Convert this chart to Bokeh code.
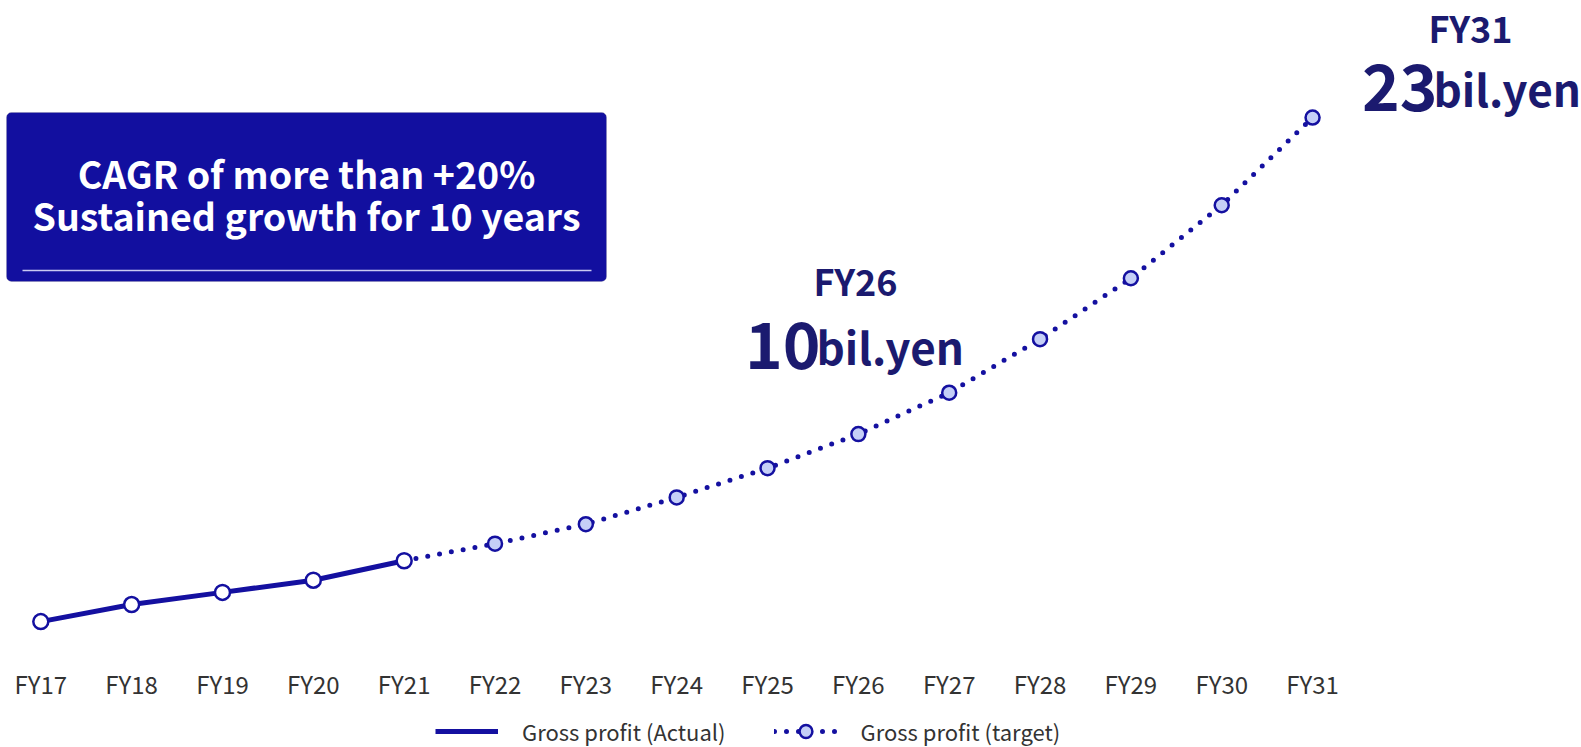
from bokeh.plotting import figure
from bokeh.models import (Range1d, LinearAxis, FixedTicker, Legend, LegendItem,
                          BoxAnnotation, Label)
from bokeh.embed import file_html
from bokeh.resources import INLINE

# ---- data (billion yen, gross profit) ----
years = ["FY17", "FY18", "FY19", "FY20", "FY21", "FY22", "FY23", "FY24",
         "FY25", "FY26", "FY27", "FY28", "FY29", "FY30", "FY31"]
actual_years = years[:5]
actual_values = [2.3, 3.0, 3.5, 4.0, 4.8]
target_years = years[4:]
target_values = [4.8, 5.5, 6.3, 7.4, 8.6, 10.0, 11.7, 13.9, 16.4, 19.4, 23.0]

# ---- canvas geometry ----
W, H = 1581, 747
X_FIRST, X_STEP = 40.3, 90.84          # pixel of first year, pixels per year
Y_TEN, Y_UNIT = 433.6, 24.35           # pixel row of value 10, pixels per unit

x_lo = -X_FIRST / X_STEP
x_hi = (W - X_FIRST) / X_STEP
y_hi = 10 + Y_TEN / Y_UNIT
y_lo = 10 - (H - Y_TEN) / Y_UNIT


def px_x(px):
    return x_lo + px / W * (x_hi - x_lo)


def px_y(py):
    return y_hi - py / H * (y_hi - y_lo)


FONT = "Noto Sans CJK JP"
NAVY = "#1410a0"
TEXT_NAVY = "#1b1a6f"
BOX = "#120f9f"

xi = {y: i for i, y in enumerate(years)}
ax = [xi[y] for y in actual_years]
tx = [xi[y] for y in target_years]

p = figure(width=W, height=H, x_range=Range1d(x_lo, x_hi), y_range=Range1d(y_lo, y_hi),
           output_backend="svg", toolbar_location=None, min_border=0,
           x_axis_type=None, y_axis_type=None)
p.outline_line_color = None
p.background_fill_color = "white"
p.border_fill_color = "white"

# x axis with fiscal-year labels, pinned inside the frame
xaxis = LinearAxis(ticker=FixedTicker(ticks=list(range(len(years)))),
                   major_label_overrides={i: y for i, y in enumerate(years)},
                   fixed_location=px_y(653))
xaxis.axis_line_color = None
xaxis.major_tick_line_color = None
xaxis.minor_tick_line_color = None
xaxis.major_label_text_font = FONT
xaxis.major_label_text_font_size = "24px"
xaxis.major_label_text_color = "#333333"
xaxis.major_label_standoff = 6
p.add_layout(xaxis, "below")

# target line (dotted) and markers
t_line = p.line(tx, target_values, line_color=NAVY, line_width=5,
                line_dash="0 12", line_cap="round")
t_pts = p.scatter(tx[1:], target_values[1:], size=14, fill_color="#c5cff7",
                  line_color=NAVY, line_width=2.5)

# actual line (solid) and markers
a_line = p.line(ax, actual_values, line_color=NAVY, line_width=5)
a_pts = p.scatter(ax, actual_values, size=15, fill_color="white",
                  line_color=NAVY, line_width=2.5)

# headline box
p.add_layout(BoxAnnotation(left=px_x(6), right=px_x(606), top=px_y(112), bottom=px_y(281),
                           fill_color=BOX, fill_alpha=1, line_color="#8a8a9a",
                           line_width=1, border_radius=5))
rule = p.segment(x0=[px_x(22)], y0=[px_y(270)], x1=[px_x(591)], y1=[px_y(270)],
                 line_color="#c9c9f2", line_width=1.5)
rule.level = "overlay"
for txt, py in [("CAGR of more than +20%", 172), ("Sustained growth for 10 years", 214)]:
    p.add_layout(Label(x=px_x(306), y=px_y(py), text=txt, text_font=FONT,
                       text_font_style="bold", text_font_size="37.5px",
                       text_color="white", text_align="center",
                       text_baseline="middle"))


# value call-outs
def callout(year_px, year_py, join_px, base_py, year, big):
    p.add_layout(Label(x=px_x(year_px), y=px_y(year_py), text=year, text_font=FONT,
                       text_font_style="bold", text_font_size="36px",
                       text_color=TEXT_NAVY, text_align="center",
                       text_baseline="middle"))
    p.add_layout(Label(x=px_x(join_px + 2), y=px_y(base_py), text=big, text_font=FONT,
                       text_font_style="bold", text_font_size="64px",
                       text_color=TEXT_NAVY, text_align="right",
                       text_baseline="alphabetic"))
    p.add_layout(Label(x=px_x(join_px - 2), y=px_y(base_py), text="bil.yen",
                       text_font=FONT, text_font_style="bold",
                       text_font_size="44px", text_color=TEXT_NAVY,
                       text_align="left", text_baseline="alphabetic"))


callout(855, 279, 818, 345, "FY26", "10")
callout(1470, 26, 1435, 87, "FY31", "23")

legend = Legend(items=[LegendItem(label="Gross profit (Actual)", renderers=[a_line]),
                       LegendItem(label="Gross profit (target)", renderers=[t_line, t_pts])],
                location=(435, 0), orientation="horizontal",
                glyph_width=63, glyph_height=32, label_standoff=24, spacing=48,
                padding=0, margin=0, border_line_color=None,
                background_fill_alpha=0,
                label_text_font=FONT, label_text_font_size="22px",
                label_text_color="#333333", label_text_baseline="middle")
p.add_layout(legend)

open("out.html", "w").write(file_html(p, INLINE))
